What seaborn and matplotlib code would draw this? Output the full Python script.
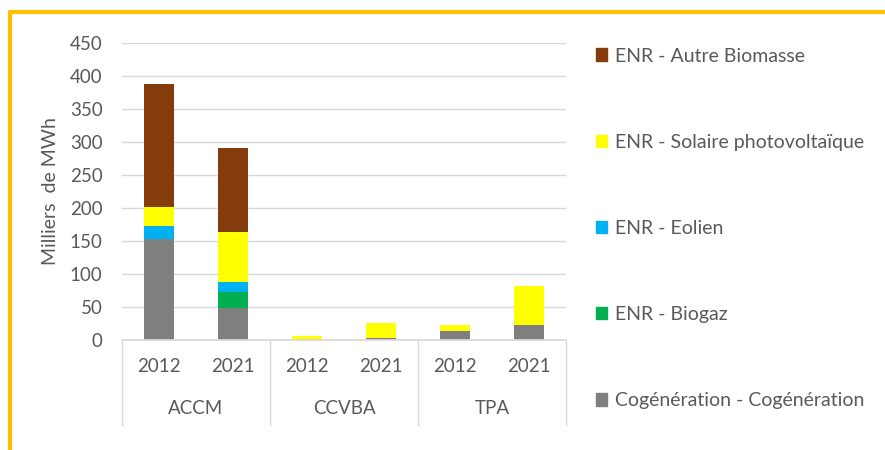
import pandas as pd
import matplotlib
matplotlib.use("Agg")
import matplotlib.pyplot as plt
import matplotlib.patches as mpatches
from matplotlib.lines import Line2D
import seaborn as sns

# ── Data ───────────────────────────────────────────────────────────────────────
territoires = ["ACCM", "ACCM", "CCVBA", "CCVBA", "TPA", "TPA"]
annees      = ["2012", "2021", "2012", "2021", "2012", "2021"]
groupes     = ["ACCM", "CCVBA", "TPA"]

series = ["Cogénération - Cogénération", "ENR - Biogaz", "ENR - Eolien",
          "ENR - Solaire photovoltaïque", "ENR - Autre Biomasse"]
cogeneration = [153, 48, 0, 3, 14, 22]
biogaz       = [0, 25, 0, 0, 0, 0]
eolien       = [19, 15, 0, 0, 0, 0]
solaire      = [30, 75, 6, 22, 8, 60]
biomasse     = [185, 127, 0, 0, 0, 0]

colors = ["#7F7F7F", "#00B050", "#00B0F0", "#FFFF00", "#843C0C"]
TXT = "#595959"

# ── Style ─────────────────────────────────────────────────────────────────────
sns.set_theme(style="white")
plt.rcParams["font.family"] = ["Lato", "DejaVu Sans"]

df = pd.DataFrame({"territoire": territoires, "annee": annees})
df["key"] = df["territoire"] + " " + df["annee"]
cum = df[["key"]].copy()
running = [0] * len(df)
for name, vals in zip(series, [cogeneration, biogaz, eolien, solaire, biomasse]):
    running = [r + v for r, v in zip(running, vals)]
    cum[name] = running

fig = plt.figure(figsize=(8.85, 4.5), dpi=100)
ax = fig.add_axes([122 / 885, 1 - 340 / 450, 444 / 885, (340 - 42.7) / 450])

# stacked bars: draw cumulative totals from top series down
for name, col in reversed(list(zip(series, colors))):
    sns.barplot(data=cum, x="key", y=name, order=list(df["key"]), color=col,
                width=0.4, saturation=1, edgecolor="none", linewidth=0, ax=ax)

ax.set_ylim(0, 450)
ax.set_xlim(-0.5, len(df) - 0.5)
ax.set_yticks(range(0, 451, 50))
ax.yaxis.grid(True, color="#D9D9D9", linewidth=1)
ax.set_axisbelow(True)
for s in ["top", "right", "left"]:
    ax.spines[s].set_visible(False)
ax.spines["bottom"].set_color("#D9D9D9")
ax.tick_params(axis="y", length=0, labelsize=13.5, labelcolor=TXT, pad=14)
ax.set_xticks(range(len(df)))
ax.set_xticklabels(annees)
ax.tick_params(axis="x", length=0, labelsize=13.5, labelcolor=TXT, pad=13)
ax.set_xlabel("")
ax.set_ylabel("Milliers  de MWh", fontsize=14, color=TXT, labelpad=8)

# two-level category axis
tr = ax.get_xaxis_transform()
for xs in [-0.5, 1.5, 3.5, 5.5]:
    ax.plot([xs, xs], [0, -0.286], transform=tr, color="#D9D9D9",
            linewidth=1, clip_on=False)
for i, g in enumerate(groupes):
    ax.text(2 * i + 0.5, -0.229, g, transform=tr, ha="center", va="center",
            fontsize=13.5, color=TXT)

# legend (top series first)
handles = [mpatches.Patch(color=c, label=n) for n, c in zip(series, colors)][::-1]
fig.legend(handles=handles, loc="upper left", bbox_to_anchor=(578 / 885, 1 - 30 / 450),
           frameon=False, fontsize=14, labelcolor=TXT, labelspacing=3.56,
           handlelength=0.6, handleheight=0.6, handletextpad=0.4)

# orange frame (top and left edges)
fig.add_artist(Line2D([10 / 885, 1.01], [1 - 12 / 450, 1 - 12 / 450],
                      transform=fig.transFigure, color="#FFC000", linewidth=3))
fig.add_artist(Line2D([10 / 885, 10 / 885], [1 - 12 / 450, -0.01],
                      transform=fig.transFigure, color="#FFC000", linewidth=3))

fig.savefig("out.png", dpi=100)
